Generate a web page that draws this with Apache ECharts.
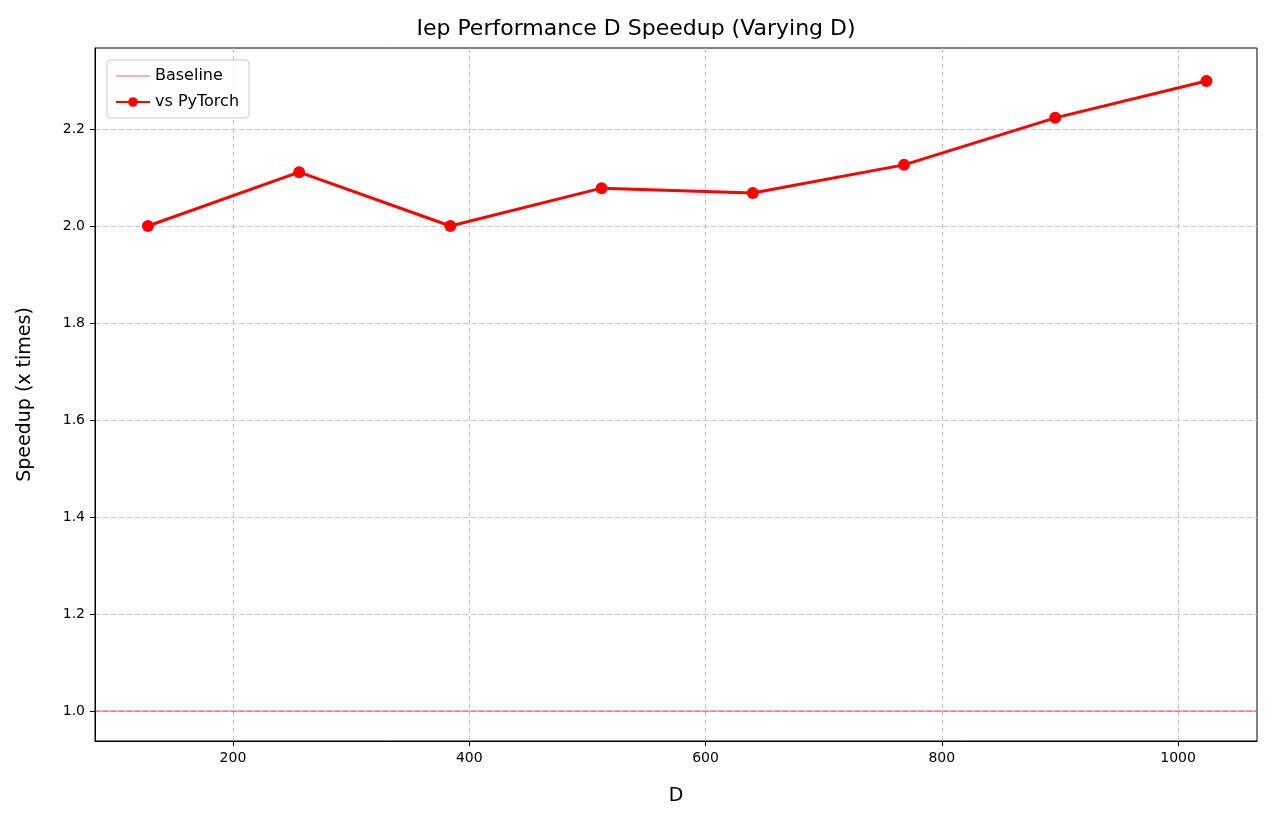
<!DOCTYPE html>
<html><head><meta charset="utf-8">
<script src="https://cdn.jsdelivr.net/npm/echarts@6/dist/echarts.min.js"></script>
<style>body{margin:0}#container{width:1272px;height:824px}</style>
</head><body><div id="container"></div>
<script>
var dValues = [128, 256, 384, 512, 640, 768, 896, 1024];
var speedup = [2.0, 2.111, 2.0, 2.078, 2.068, 2.126, 2.223, 2.299];
var xTicks = [200, 400, 600, 800, 1000];
var yTicks = [1.0, 1.2, 1.4, 1.6, 1.8, 2.0, 2.2];
var baseline = 1.0;

var chart = echarts.init(document.getElementById('container'));
var font = 'DejaVu Sans';
var grid = {type: [5, 3], color: '#c4c4c4', width: 1};
option = {
    animation: false,
    textStyle: {fontFamily: font},
    title: {
        text: 'Iep Performance D Speedup (Varying D)',
        left: 'center', top: 13,
        textStyle: {fontFamily: font, fontSize: 22, fontWeight: 'normal', color: '#000'}
    },
    legend: {
        orient: 'vertical', left: 107, top: 60,
        borderColor: '#cccccc', borderWidth: 1, borderRadius: 4,
        padding: [8, 10, 8, 8], itemGap: 10, itemWidth: 34, itemHeight: 12,
        backgroundColor: 'rgba(255,255,255,0.8)',
        textStyle: {fontFamily: font, fontSize: 16, color: '#000'},
        data: [{name: 'Baseline', itemStyle: {opacity: 0}}, 'vs PyTorch']
    },
    grid: {left: 95, right: 15, top: 48, bottom: 83, show: true,
        borderColor: '#000', borderWidth: 1, backgroundColor: 'transparent'},
    xAxis: {
        type: 'value', min: 83.2, max: 1066.8,
        name: 'D', nameLocation: 'middle', nameGap: 46,
        nameTextStyle: {fontSize: 19, color: '#000', fontFamily: font},
        axisLine: {show: true, onZero: false, lineStyle: {color: '#000'}},
        axisTick: {show: true, customValues: xTicks, length: 5, lineStyle: {color: '#000'}},
        axisLabel: {customValues: xTicks, fontSize: 14, color: '#000', margin: 10,
            formatter: function (v) { return String(v); }},
        splitLine: {show: true, lineStyle: grid}
    },
    yAxis: {
        type: 'value', min: 0.938, max: 2.367,
        name: 'Speedup (x times)', nameLocation: 'middle', nameGap: 60,
        nameTextStyle: {fontSize: 19, color: '#000', fontFamily: font},
        axisLine: {show: true, lineStyle: {color: '#000'}},
        axisTick: {show: true, customValues: yTicks, length: 5, lineStyle: {color: '#000'}},
        axisLabel: {customValues: yTicks, fontSize: 14, color: '#000', margin: 10,
            formatter: function (v) { return v.toFixed(1); }},
        splitLine: {show: true, lineStyle: grid}
    },
    series: [
        {
            name: 'Baseline', type: 'line', data: [],
            itemStyle: {color: '#ffb0b0'}, lineStyle: {color: '#ffb0b0', width: 2},
            symbol: 'none',
            markLine: {
                silent: true, symbol: 'none', label: {show: false},
                lineStyle: {color: 'rgba(255,0,0,0.35)', width: 2, type: 'solid'},
                data: [{yAxis: baseline}]
            }
        },
        {
            name: 'vs PyTorch', type: 'line',
            data: dValues.map(function (d, i) { return [d, speedup[i]]; }),
            symbol: 'circle', symbolSize: 12,
            itemStyle: {color: '#ff0000'}, lineStyle: {color: '#ff0000', width: 3}
        }
    ]
};
chart.setOption(option);
</script></body></html>
